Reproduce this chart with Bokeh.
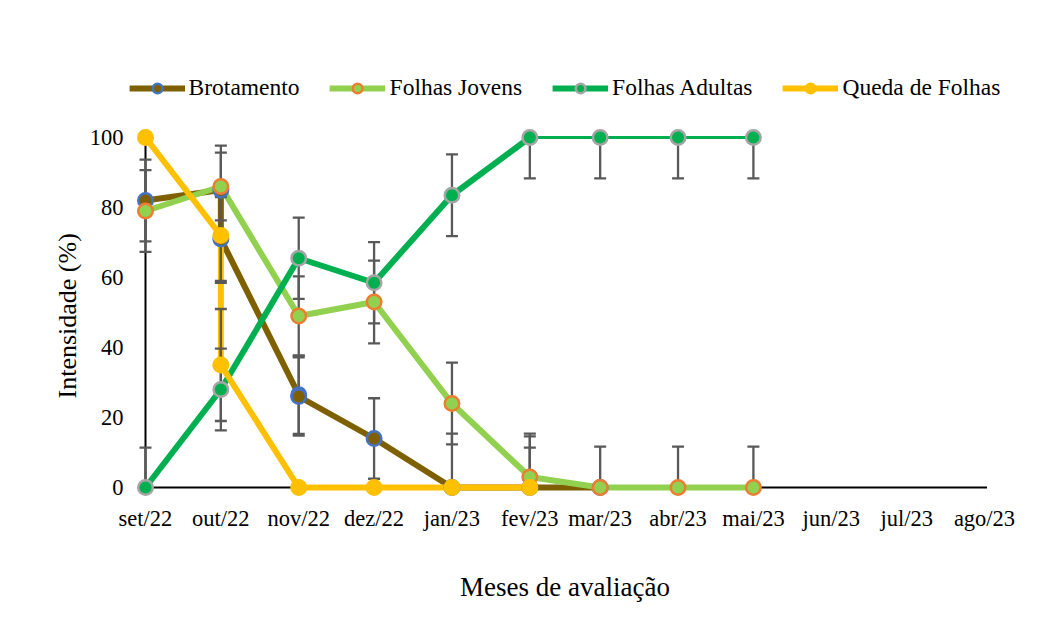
import datetime as dt
from bokeh.plotting import figure
from bokeh.models import Range1d, FixedTicker, Legend, LegendItem, ColumnDataSource, Title
from bokeh.embed import file_html
from bokeh.resources import INLINE

# ---------------- data ----------------
month_starts = ["2022-09-01", "2022-10-01", "2022-11-01", "2022-12-01", "2023-01-01", "2023-02-01",
                "2023-03-01", "2023-04-01", "2023-05-01", "2023-06-01", "2023-07-01", "2023-08-01"]
month_labels = ["set/22", "out/22", "nov/22", "dez/22", "jan/23", "fev/23",
                "mar/23", "abr/23", "mai/23", "jun/23", "jul/23", "ago/23"]

brot_idx = [0, 1, 1, 2, 2, 3, 4, 5, 6]
brot_val = [82, 85, 71, 26.5, 26, 14, 0, 0, 0]
brot_err = [11.7, 12.7, 12.0, 11.2, 11.2, 11.5, 15.4, 15.4, 0]

jov_idx = [0, 1, 2, 3, 4, 5, 6, 7, 8]
jov_val = [79, 86, 49, 53, 24, 3, 0, 0, 0]
jov_err = [11.7, 9.7, 11.3, 11.8, 11.7, 11.6, 11.7, 11.7, 11.7]

adu_idx = [0, 1, 2, 3, 4, 5, 6, 7, 8]
adu_val = [0, 28, 65.5, 58.5, 83.5, 100, 100, 100, 100]
adu_err = [11.4, 11.7, 11.6, 11.6, 11.7, 11.7, 11.7, 11.7, 11.7]

que_idx = [0, 1, 1, 2, 3, 4, 5]
que_val = [100, 72, 35, 0, 0, 0, 0]
que_err = [0, 13.5, 16.0, 0, 0, 0, 11.4]

y_ticks = [0, 20, 40, 60, 80, 100]

# ---------------- helpers ----------------
d0 = dt.date.fromisoformat(month_starts[0])
month_days = [(dt.date.fromisoformat(m) - d0).days for m in month_starts]


def xs(idx):
    return [month_days[i] for i in idx]


FONT = "Liberation Serif"
ERR_COLOR = "#595959"

p = figure(width=1024, height=608, output_backend="svg", toolbar_location=None,
           x_range=Range1d(-7.96, 341.96), y_range=Range1d(-4, 127.71),
           min_border_left=125, min_border_right=20, min_border_top=40, min_border_bottom=107)
p.outline_line_color = None
p.xgrid.visible = False
p.ygrid.visible = False
p.background_fill_color = "white"
p.border_fill_color = "white"

# axes
p.xaxis.ticker = FixedTicker(ticks=month_days)
p.xaxis.major_label_overrides = {d: lab for d, lab in zip(month_days, month_labels)}
p.yaxis.ticker = FixedTicker(ticks=y_ticks)
for ax in (p.xaxis, p.yaxis):
    ax.axis_line_color = None
    ax.major_tick_line_color = None
    ax.minor_tick_line_color = None
    ax.major_tick_out = 0
    ax.major_tick_in = 0
    ax.major_label_text_font = FONT
    ax.major_label_text_font_size = "22.5px"
    ax.major_label_text_color = "black"
    ax.axis_label_text_font = FONT
    ax.axis_label_text_font_size = "27px"
    ax.axis_label_text_font_style = "normal"
    ax.axis_label_text_color = "black"
p.xaxis.major_label_standoff = 4
p.yaxis.major_label_standoff = 2
p.xaxis.axis_label = "Meses de avaliação"
p.xaxis.axis_label_standoff = 38

# y title, positioned along the 0-100 span
ytitle = Title(text="Intensidade (%)", align="left", offset=103,
               text_font=FONT, text_font_size="26px", text_font_style="normal", text_color="black")
p.add_layout(ytitle, "left")

# axis lines drawn at data zero
p.segment(x0=[month_days[0]], y0=[0], x1=[month_days[-1] + 1], y1=[0], line_color="black", line_width=2)
p.segment(x0=[month_days[0]], y0=[0], x1=[month_days[0]], y1=[100], line_color="black", line_width=2)

series = [
    ("Brotamento", brot_idx, brot_val, brot_err, "#7F6000", "#7F6000", "#4472C4"),
    ("Folhas Jovens", jov_idx, jov_val, jov_err, "#92D050", "#92D050", "#ED7D31"),
    ("Folhas Adultas", adu_idx, adu_val, adu_err, "#00B050", "#00B050", "#A5A5A5"),
    ("Queda de Folhas", que_idx, que_val, que_err, "#FFC000", "#FFC000", "#FFC000"),
]

line_r = {}
for name, idx, val, err, lc, fc, ec in series:
    x = xs(idx)
    if name == "Folhas Adultas":
        k = adu_val.index(100) + 1
        line_r[name] = p.line(x[:k], val[:k], line_color=lc, line_width=6)
        p.line(x[k - 1:], val[k - 1:], line_color=lc, line_width=3)
    else:
        line_r[name] = p.line(x, val, line_color=lc, line_width=6)

# error bars (clipped to the 0-100 plot range, caps only where not clipped)
for name, idx, val, err, *_ in series:
    bx, lo, hi, cx, cy = [], [], [], [], []
    for xv, v, e in zip(xs(idx), val, err):
        if e <= 0:
            continue
        l, h = v - e, v + e
        bx.append(xv)
        lo.append(max(0, l))
        hi.append(min(100, h))
        if l >= 0:
            cx.append(xv)
            cy.append(l)
        if h <= 100:
            cx.append(xv)
            cy.append(h)
    p.segment(x0=bx, y0=lo, x1=bx, y1=hi, line_color=ERR_COLOR, line_width=2.3)
    p.scatter(cx, cy, marker="dash", size=12, line_color=ERR_COLOR, line_width=2.3)

items = []
for name, idx, val, err, lc, fc, ec in series:
    src = ColumnDataSource(dict(x=xs(idx), y=val))
    m = p.scatter("x", "y", source=src, size=14.5, fill_color=fc, line_color=ec, line_width=2.5)
    items.append(LegendItem(label=name, renderers=[line_r[name], m]))

legend = Legend(items=items, orientation="horizontal", location="top_center",
                label_text_font=FONT, label_text_font_size="23.5px", label_text_color="black",
                glyph_width=56, glyph_height=24, label_height=24, label_standoff=4, spacing=30, padding=2,
                margin=34, border_line_color=None, background_fill_alpha=0)
p.add_layout(legend, "center")

open("out.html", "w").write(file_html(p, INLINE))
